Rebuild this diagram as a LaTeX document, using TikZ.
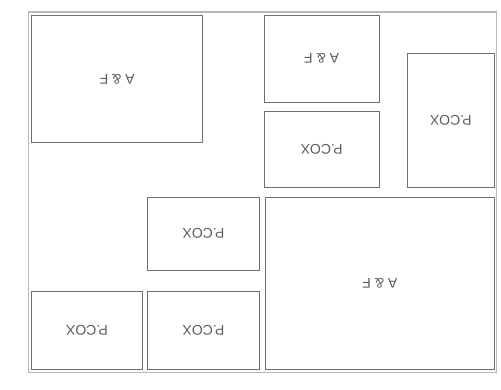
\documentclass[tikz,border=0pt]{standalone}
\usepackage{fontspec}
\setmainfont{Liberation Sans}
\begin{document}
\begin{tikzpicture}[x=1pt,y=-1pt,
  frame/.style={draw={rgb,255:red,185;green,185;blue,185},line width=1.4pt},
  panel/.style={draw={rgb,255:red,110;green,110;blue,110},line width=0.9pt,
    text={rgb,255:red,90;green,90;blue,90},font=\fontsize{14}{16}\selectfont,
    rotate=180,inner sep=0pt,outer sep=0pt}]
\useasboundingbox (0,0) rectangle (501,389);
\node[frame,minimum width=468pt,minimum height=360.5pt,inner sep=0pt] (outer) at (262.5,192.25) {};
\node[panel,minimum width=171pt,minimum height=127.7pt] (b1) at (117.2,78.85) {A \& F};
\node[panel,minimum width=114.7pt,minimum height=87.3pt] (b2) at (321.65,58.65) {A \& F};
\node[panel,minimum width=114.7pt,minimum height=76pt] (b3) at (321.65,149.3) {P.COX};
\node[panel,minimum width=86.3pt,minimum height=134pt] (b4) at (450.85,120.3) {P.COX};
\node[panel,minimum width=228.3pt,minimum height=172pt] (b5) at (379.85,283.3) {A \& F};
\node[panel,minimum width=111.6pt,minimum height=73pt] (b6) at (203.5,233.8) {P.COX};
\node[panel,minimum width=110.6pt,minimum height=78.3pt] (b7) at (87,330.15) {P.COX};
\node[panel,minimum width=111.6pt,minimum height=78.3pt] (b8) at (203.5,330.15) {P.COX};
\end{tikzpicture}
\end{document}
